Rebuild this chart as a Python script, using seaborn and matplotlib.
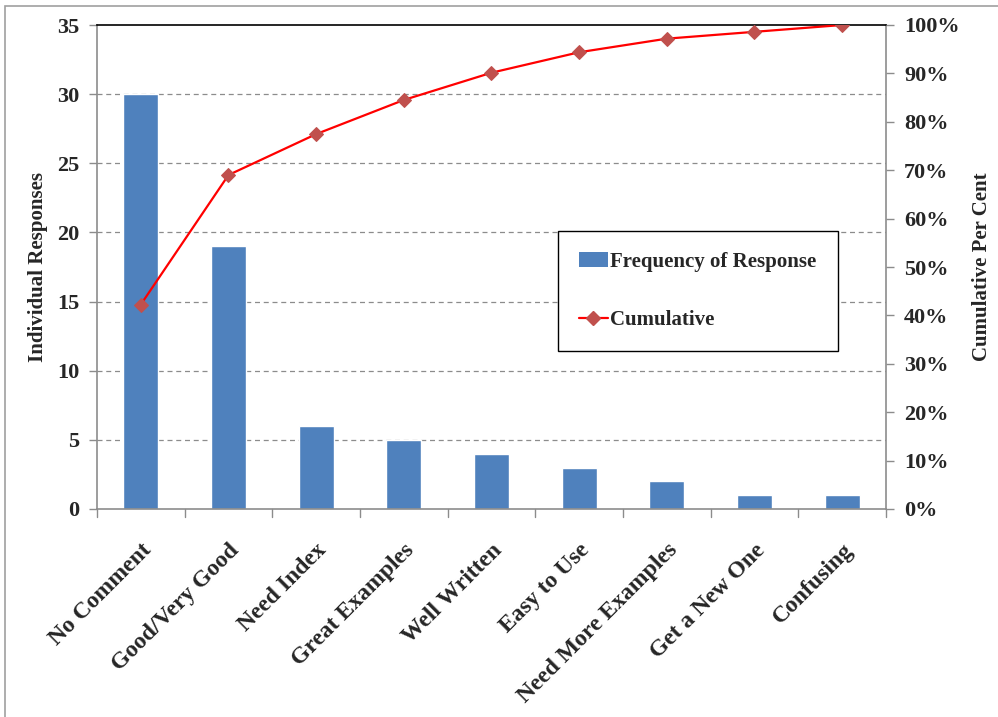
import matplotlib
matplotlib.use("Agg")
import matplotlib.pyplot as plt
import seaborn as sns
import pandas as pd
import numpy as np
from matplotlib.patches import Rectangle
from matplotlib.lines import Line2D
from matplotlib.patches import Patch

categories = ["No Comment", "Good/Very Good", "Need Index", "Great Examples",
              "Well Written", "Easy to Use", "Need More Examples", "Get a New One", "Confusing"]
frequency = [30, 19, 6, 5, 4, 3, 2, 1, 1]
cumulative_pct = [42.25, 69.01, 77.46, 84.51, 90.14, 94.37, 97.18, 98.59, 100.0]
left_ticks = [0, 5, 10, 15, 20, 25, 30, 35]
right_ticks = [0, 10, 20, 30, 40, 50, 60, 70, 80, 90, 100]

sns.set_theme(style="white")
plt.rcParams['font.family'] = ['Liberation Serif', 'DejaVu Serif']
plt.rcParams['font.weight'] = 'bold'

df = pd.DataFrame({"cat": categories, "freq": frequency, "cum": cumulative_pct})

W, H = 998, 717
L, R, T, B = 97, 886, 25, 509
fig = plt.figure(figsize=(W/100, H/100), dpi=100)
ax = fig.add_axes([L/W, 1-B/H, (R-L)/W, (B-T)/H])
fig.patches.append(Rectangle((5/W, -0.1), 1.1, 1.1-6/H, transform=fig.transFigure,
                             fill=False, edgecolor='#a0a0a0', linewidth=1.2))

sns.barplot(data=df, x="cat", y="freq", color="#4F81BD", saturation=1, width=0.4, ax=ax)
ax.set_xlim(-0.5, len(categories)-0.5)
ax.set_ylim(0, 35)
ax.set_yticks(left_ticks)
ax.set_yticklabels([str(t) for t in left_ticks], fontsize=16, fontweight='bold')
for t in left_ticks[1:-1]:
    ax.axhline(t, color='#8c8c8c', linestyle=(0, (4, 3)), linewidth=0.9, zorder=0)
ax.set_xlabel("")
ax.set_ylabel("Individual Responses", fontsize=15, fontweight='bold', labelpad=6.5)
ax.set_xticks(np.arange(len(categories)))
ax.set_xticklabels(categories, rotation=45, ha='right', rotation_mode='anchor',
                   fontsize=17, fontweight='bold')
ax.tick_params(axis='x', length=0, pad=22)
# boundary ticks on x-axis
for b in np.arange(-0.5, len(categories)):
    ax.plot([b, b], [0, -0.016], transform=ax.get_xaxis_transform(), color='#8c8c8c',
            linewidth=1, clip_on=False)
ax.tick_params(axis='y', length=6, width=1, color='#8c8c8c', direction='out', pad=6.5)
for s in ['left', 'bottom', 'right']:
    ax.spines[s].set_color('#8c8c8c')
    ax.spines[s].set_linewidth(1.2)
ax.spines['top'].set_color('black')
ax.spines['top'].set_linewidth(1.2)

ax2 = ax.twinx()
sns.lineplot(data=df, x="cat", y="cum", color="#FF0000", linewidth=1.6, marker='D',
             markersize=7.5, markerfacecolor='#C0504D', markeredgecolor='#C0504D', ax=ax2,
             sort=False)
ax2.set_ylim(0, 100)
ax2.set_yticks(right_ticks)
ax2.set_yticklabels([f"{t}%" for t in right_ticks], fontsize=16, fontweight='bold')
ax2.set_ylabel("Cumulative Per Cent", fontsize=15, fontweight='bold', labelpad=9)
ax2.tick_params(axis='y', length=6, width=1, color='#8c8c8c', direction='out', pad=7)
ax2.set_xlim(-0.5, len(categories)-0.5)
ax2.set_xlabel("")
for s in ax2.spines.values():
    s.set_visible(False)

handles = [Patch(facecolor='#4F81BD', edgecolor='none', label='Frequency of Response'),
           Line2D([0], [0], color='#FF0000', marker='D', markersize=7.5, markerfacecolor='#C0504D',
                  markeredgecolor='#C0504D', linewidth=1.6, label='Cumulative')]
lx0, lx1, ly0, ly1 = 558, 838, 232, 350
leg = ax2.legend(handles=handles, loc='center',
                 bbox_to_anchor=((lx0-L)/(R-L), 1-(ly1-T)/(B-T), (lx1-lx0)/(R-L), (ly1-ly0)/(B-T)),
                 mode='expand', frameon=True, fancybox=False, framealpha=1,
                 prop={'size': 15, 'weight': 'bold'}, labelspacing=1.85, borderpad=1.0,
                 handlelength=1.4, handletextpad=0.12, borderaxespad=0)
leg.get_frame().set_edgecolor('black')
leg.get_frame().set_linewidth(1.0)

fig.savefig("out.png", dpi=100)
